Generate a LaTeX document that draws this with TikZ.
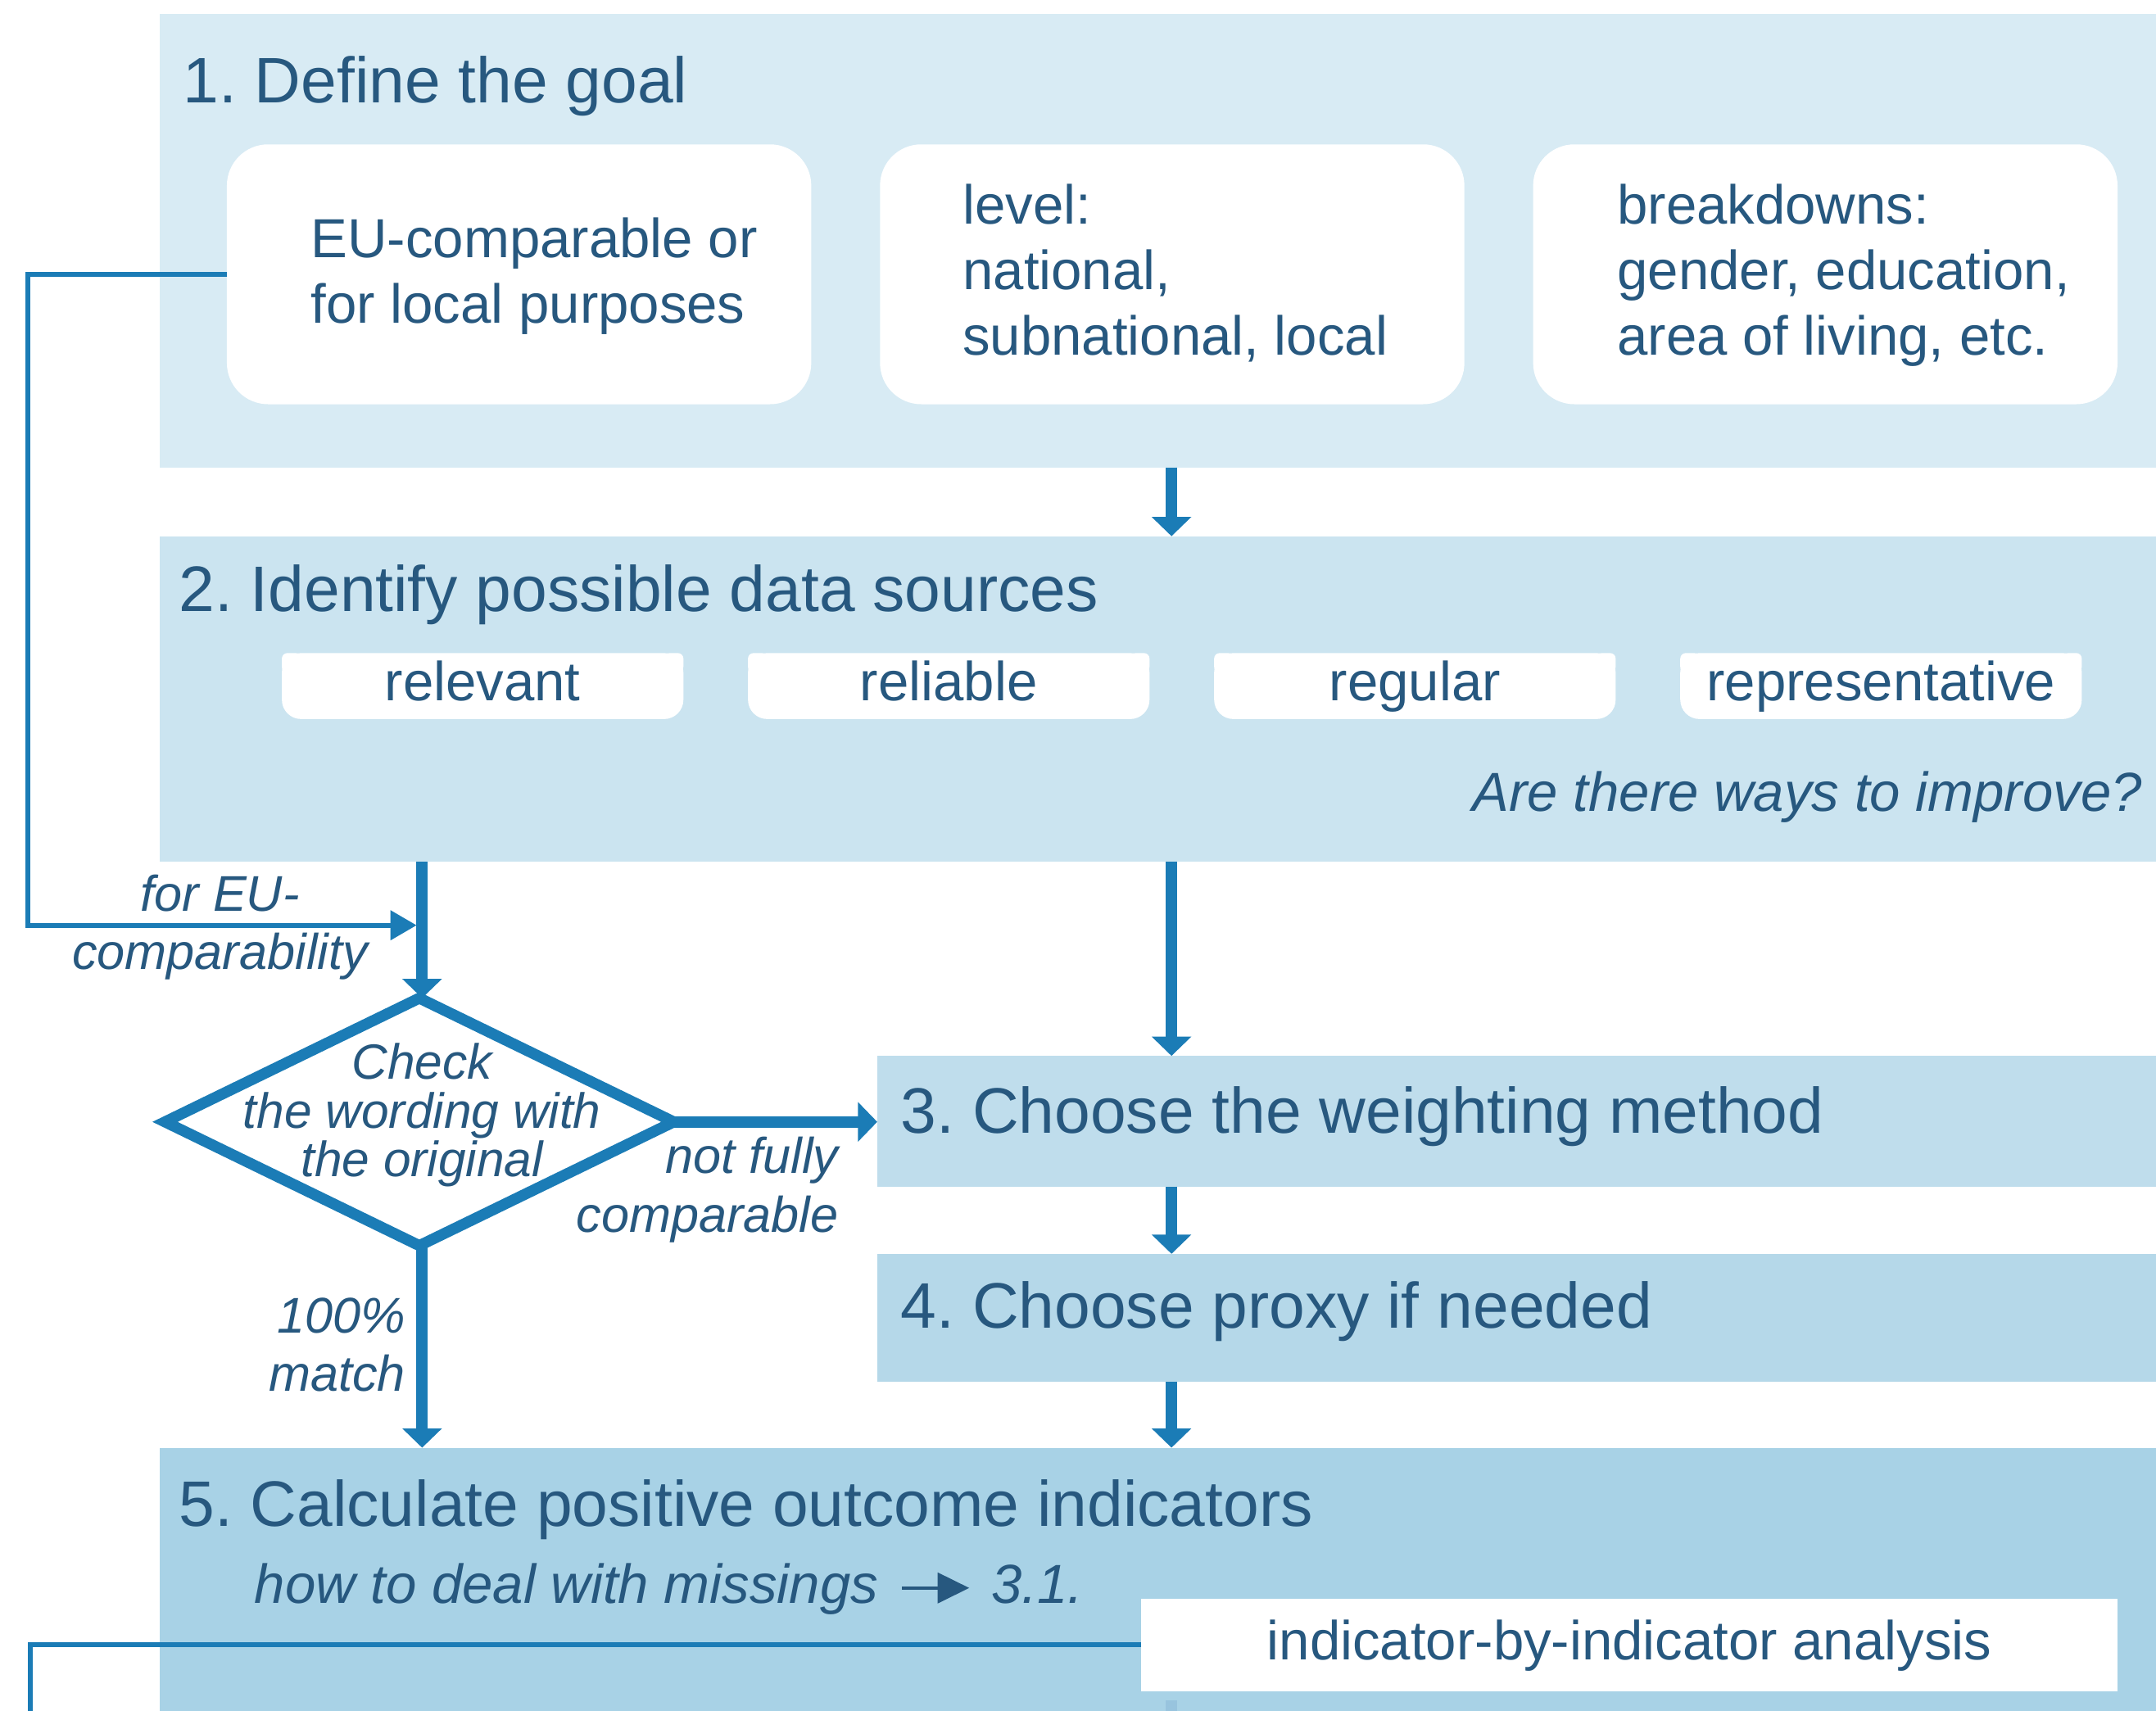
\documentclass[tikz,border=0pt]{standalone}
\usepackage{fontspec}
\setmainfont{Liberation Sans}
\usetikzlibrary{arrows.meta,shapes.geometric}
\frenchspacing

\definecolor{panelA}{HTML}{D8EBF4}
\definecolor{panelB}{HTML}{CBE4F0}
\definecolor{panelC}{HTML}{BFDDEC}
\definecolor{panelD}{HTML}{B5D8E9}
\definecolor{panelE}{HTML}{A8D2E6}
\definecolor{ink}{HTML}{27587F}
\definecolor{flow}{HTML}{1B7CB6}

% small arrow glyph used inside running text
\newcommand\pointerglyph{\tikz[baseline=-11pt]\draw[draw=ink,fill=ink,line width=2.4pt,-{Triangle[width=22pt,length=23pt]}] (0pt,0pt) -- (49pt,0pt);}

\begin{document}
\begin{tikzpicture}[x=1pt,y=-1pt,
  panel/.style={rectangle,draw=none,inner sep=0pt,outer sep=0pt,anchor=north west},
  title/.style={text=ink,inner sep=0pt,anchor=base west,font=\fontsize{46.8}{56}\selectfont},
  goalbox/.style={rectangle,fill=white,rounded corners=30pt,inner sep=0pt,outer sep=0pt,
    minimum width=425pt,minimum height=189pt,anchor=north west},
  goaltext/.style={text=ink,inner sep=0pt,align=left,anchor=base west,font=\fontsize{40}{47.5}\selectfont},
  critbox/.style={rectangle,fill=white,rounded corners=14pt,inner sep=0pt,outer sep=0pt,
    minimum width=292pt,minimum height=48pt,text=ink,text height=29pt,text depth=8pt,
    font=\fontsize{40}{48}\selectfont},
  corner/.style={fill=white,rounded corners=4pt},
  note/.style={text=ink,inner sep=0pt,font=\itshape\fontsize{40}{48}\selectfont},
  lbl/.style={text=ink,inner sep=0pt,font=\itshape\fontsize{36.5}{42.5}\selectfont},
  flowarrow/.style={draw=flow,line width=8.5pt,-{Triangle[width=28pt,length=14pt]}},
  thinarrow/.style={draw=flow,line width=3.5pt,-{Triangle[width=21pt,length=19pt]}},
  thinline/.style={draw=flow,line width=3.5pt},
  decision/.style={diamond,draw=flow,line width=8pt,inner sep=0pt,outer sep=0pt,
    minimum width=370pt,minimum height=180pt},
  indbox/.style={rectangle,fill=white,inner sep=0pt,outer sep=0pt,minimum width=710pt,
    minimum height=67pt,text=ink,text height=29pt,text depth=8pt,font=\fontsize{40}{48}\selectfont}
]
\useasboundingbox (0,0) rectangle (1568,1244.5);
\fill[white] (0,0) rectangle (1568,1244.5);

% stage panels
\node[panel,fill=panelA,minimum width=1452pt,minimum height=330pt] (p1) at (116,10) {};
\node[panel,fill=panelB,minimum width=1452pt,minimum height=237pt] (p2) at (116,390) {};
\node[panel,fill=panelC,minimum width=930pt,minimum height=95pt] (p3) at (638,768) {};
\node[panel,fill=panelD,minimum width=930pt,minimum height=93pt] (p4) at (638,912) {};
\node[panel,fill=panelE,minimum width=1452pt,minimum height=192pt] (p5) at (116,1053) {};

% stage titles
\node[title] (t1) at (133,75) {1. Define the goal};
\node[title] (t2) at (130,445) {2. Identify possible data sources};
\node[title] (t3) at (655,824) {3. Choose the weighting method};
\node[title] (t4) at (655,966) {4. Choose proxy if needed};
\node[title] (t5) at (130,1110) {5. Calculate positive outcome indicators};

% goal boxes
\node[goalbox] (g1) at (165,105) {};
\node[goalbox] (g2) at (640,105) {};
\node[goalbox] (g3) at (1115,105) {};
\node[goaltext] (g1t) at (226,235) {EU-comparable or\\for local purposes};
\node[goaltext] (g2t) at (700,258) {level:\\national,\\subnational, local};
\node[goaltext] (g3t) at (1176,258) {breakdowns:\\gender, education,\\area of living, etc.};

% data source criteria
\node[critbox] (c1) at (351,499) {relevant};
\node[critbox] (c2) at (690,499) {reliable};
\node[critbox] (c3) at (1029,499) {regular};
\node[critbox] (c4) at (1368,499) {representative};
\foreach \c in {c1,c2,c3,c4}{
  \fill[corner] (\c.north west) rectangle ++(14,14);
  \fill[corner] (\c.north east) rectangle ++(-14,14);
}
\node[note,anchor=base east] (imp) at (1558,590) {Are there ways to improve?};

% decision
\node[decision] (dia) at (305,816) {};
\node[lbl,align=center,anchor=base,font=\itshape\fontsize{36}{35.5}\selectfont] (diat) at (307,856)
  {Check\\the wording with\\the original};

% branch labels
\node[lbl,align=center,anchor=base] (lEU) at (160,705) {for EU-\\comparability};
\node[lbl,align=right,anchor=base east] (lNF) at (610,896) {not fully\\comparable};
\node[lbl,align=right,anchor=base east] (lOK) at (295,1012) {100\%\\match};

% step 5 contents
\node[note,anchor=base west] (s5) at (185,1166)
  {how to deal with missings\hspace{16pt}\pointerglyph\hspace{15pt}3.1.};
\node[indbox] (ind) at (1185,1196.5) {indicator-by-indicator analysis};

% main flow
\coordinate (axis) at (852,0);
\draw[flowarrow] (p1.south -| axis) -- (p2.north -| axis);
\draw[flowarrow] (p2.south -| axis) -- (p3.north -| axis);
\draw[flowarrow] (p3.south -| axis) -- (p4.north -| axis);
\draw[flowarrow] (p4.south -| axis) -- (p5.north -| axis);
\coordinate (stubtop) at (852,1237);
\coordinate (stubend) at (852,1246);
\draw[draw=flow!45,line width=8.5pt] (stubtop) -- (stubend);

% comparability check branch
\coordinate (colx) at (307,0);
\draw[flowarrow] (p2.south -| colx) -- (dia.north -| colx);
\draw[flowarrow] (dia.east) -- (p3.west |- dia.east);
\draw[flowarrow] (dia.south -| colx) -- (p5.north -| colx);
\coordinate (join) at (303,673);
\draw[thinarrow] (g1.west) -- ++(-145,0) |- (join);

% feedback line from the indicator analysis
\coordinate (fbend) at (22,1246);
\draw[thinline] (ind.west) -| (fbend);
\end{tikzpicture}
\end{document}
